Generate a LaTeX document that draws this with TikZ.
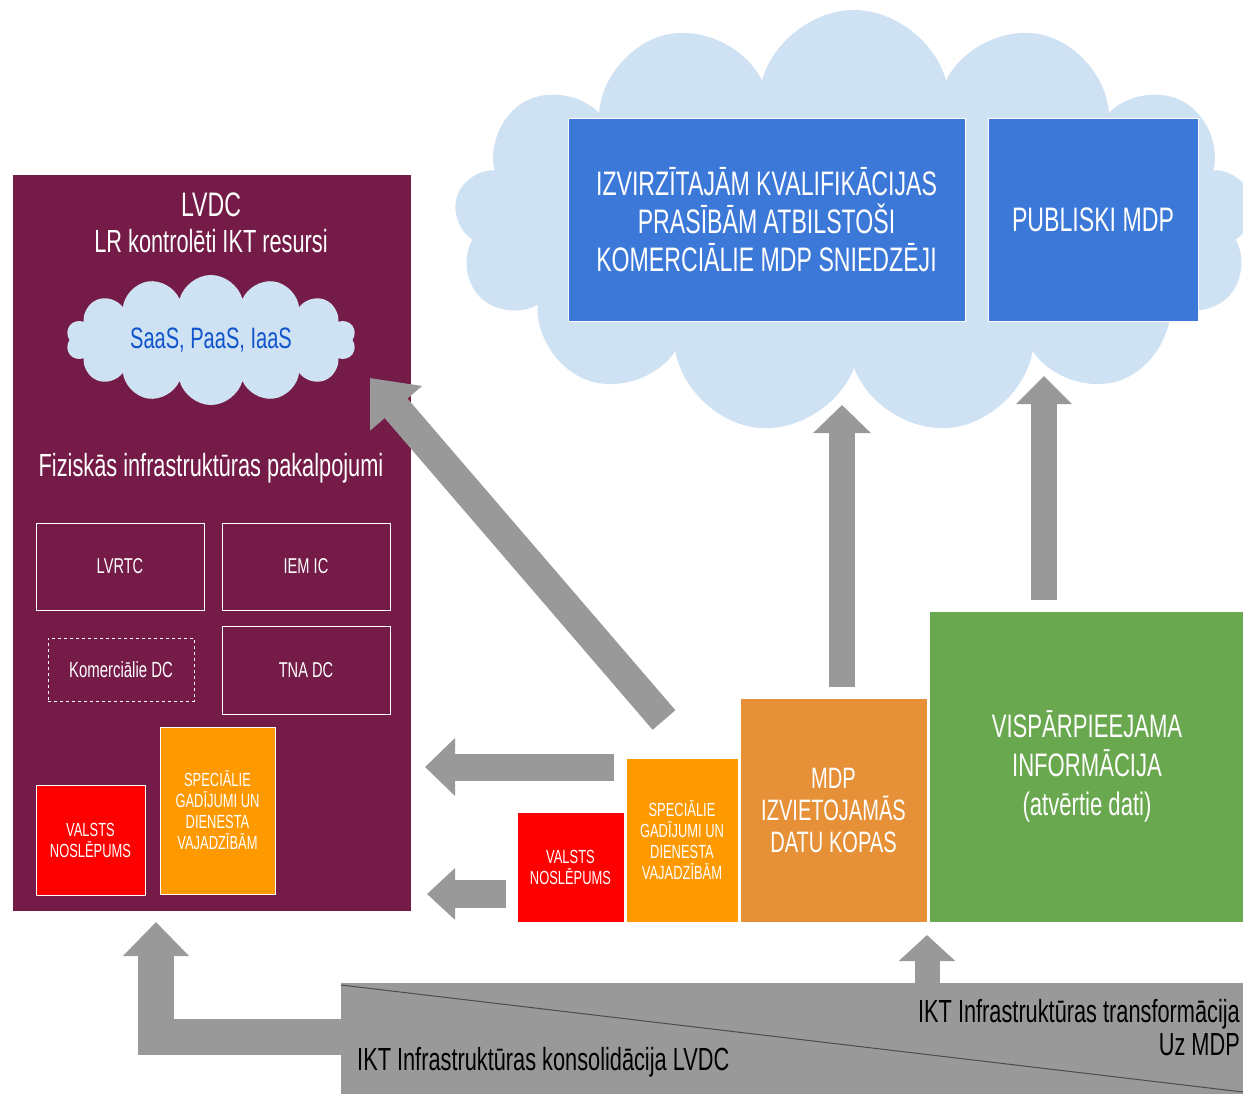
\documentclass[tikz,border=0pt]{standalone}
\usepackage{fontspec}
\setmainfont{Liberation Sans}[FakeStretch=0.68]
\usetikzlibrary{shapes.symbols,arrows.meta,positioning}
\definecolor{lvdc}{HTML}{741B47}
\definecolor{cloudblue}{HTML}{CFE2F3}
\definecolor{boxblue}{HTML}{3C78D8}
\definecolor{saasblue}{HTML}{1155CC}
\definecolor{secretred}{HTML}{FF0000}
\definecolor{specorange}{HTML}{FF9900}
\definecolor{mdporange}{HTML}{E69138}
\definecolor{opengreen}{HTML}{6AA84F}
\definecolor{arrowgray}{HTML}{999999}
\newcommand{\fsz}[2]{\fontsize{#1}{#2}\selectfont}
\tikzset{
  plate/.style={draw=white, line width=0.8pt, align=center, text=white, inner sep=0pt},
  label/.style={align=center, text=white, inner sep=0pt},
  small/.style={font=\fsz{19}{21}},
  blockarrow/.style args={#1/#2/#3}{draw=arrowgray, line width=#1, -{Triangle[width=#2,length=#3]}},
}
\begin{document}
\begin{tikzpicture}[x=1pt,y=-1pt]
  \useasboundingbox (0,0) rectangle (1243,1094);
  \fill[white] (0,0) rectangle (1243,1094);

  % cloud with the MDP providers
  \node[cloud, cloud puffs=13, cloud ignores aspect, fill=cloudblue, draw=none,
        minimum width=800pt, minimum height=424pt] (mdpcloud) at (854,222) {};
  \node[plate, fill=boxblue, minimum width=397pt, minimum height=203pt, font=\fsz{34}{38}] (comm) at (766.5,219.5)
    {IZVIRZĪTAJĀM KVALIFIKĀCIJAS\\PRASĪBĀM ATBILSTOŠI\\KOMERCIĀLIE MDP SNIEDZĒJI};
  \node[plate, fill=boxblue, minimum width=210pt, minimum height=203pt, font=\fsz{34}{38}] (publ) at (1093,219.5)
    {PUBLISKI MDP};

  % LVDC
  \node[fill=lvdc, draw=white, line width=0.8pt, minimum width=399pt, minimum height=737pt] (lvdc) at (211.5,542.5) {};
  \node[label, font=\fsz{34}{38}] (lvdct) at (211,205) {LVDC};
  \node[label, font=\fsz{32}{34}] (lrres) at (211,241) {LR kontrolēti IKT resursi};
  \node[cloud, cloud puffs=14, cloud ignores aspect, fill=cloudblue, draw=none,
        minimum width=290pt, minimum height=130pt, text=saasblue, font=\fsz{29.5}{32}] (saas) at (211,340)
    {SaaS, PaaS, IaaS};
  \node[label, font=\fsz{32}{34}] (fiz) at (211,468) {Fiziskās infrastruktūras pakalpojumi};
  \node[plate, minimum width=168pt, minimum height=87pt, font=\fsz{21.5}{24}] (lvrtc) at (120,566.5) {LVRTC};
  \node[plate, minimum width=168pt, minimum height=87pt, font=\fsz{21.5}{24}] (iemic) at (306,566.5) {IEM IC};
  \node[plate, dashed, minimum width=146pt, minimum height=63pt, font=\fsz{22}{24}] (komdc) at (121,669.5) {Komerciālie DC};
  \node[plate, minimum width=168pt, minimum height=88pt, font=\fsz{21.5}{24}] (tnadc) at (306,670) {TNA DC};
  \node[plate, small, fill=secretred, minimum width=109pt, minimum height=110pt] (secret1) at (90.5,840)
    {VALSTS\\NOSLĒPUMS};
  \node[plate, small, fill=specorange, minimum width=115pt, minimum height=167pt] (spec1) at (217.5,810.5)
    {SPECIĀLIE\\GADĪJUMI UN\\DIENESTA\\VAJADZĪBĀM};

  % data sets to be placed
  \node[plate, small, fill=secretred, minimum width=107pt, minimum height=110pt] (secret2) at (570.5,867)
    {VALSTS\\NOSLĒPUMS};
  \node[plate, small, fill=specorange, minimum width=112pt, minimum height=164pt] (spec2) at (682,840)
    {SPECIĀLIE\\GADĪJUMI UN\\DIENESTA\\VAJADZĪBĀM};
  \node[plate, fill=mdporange, minimum width=187pt, minimum height=224pt, font=\fsz{29.5}{32}] (mdpds) at (833.5,810)
    {MDP\\IZVIETOJAMĀS\\DATU KOPAS};
  \node[plate, fill=opengreen, minimum width=316pt, minimum height=311pt, font=\fsz{32.5}{39}] (open) at (1087,766.5)
    {VISPĀRPIEEJAMA\\INFORMĀCIJA\\(atvērtie dati)};

  % transformation band
  \fill[arrowgray] (341,983) rectangle (1243,1094);
  \draw[black!70, line width=1pt] (341,985) -- (1243,1092);
  \node[inner sep=0pt, anchor=west, font=\fsz{32}{34}] (kons) at (357,1062) {IKT Infrastruktūras konsolidācija LVDC};
  \node[inner sep=0pt, anchor=east, align=right, font=\fsz{32}{33}] (trans) at (1240,1028)
    {IKT Infrastruktūras transformācija\\Uz MDP};

  % arrows
  \coordinate (diagtail) at (664,720);
  \coordinate (diagtip) at (370,378);
  \coordinate (uptail) at (614,767);
  \coordinate (uptip) at (425,767);
  \coordinate (lowtail) at (506,894);
  \coordinate (lowtip) at (427,894);
  \coordinate (mdptail) at (842,687);
  \coordinate (mdptip) at (842,405);
  \coordinate (opentail) at (1044,600);
  \coordinate (opentip) at (1044,376);
  \coordinate (bandtail) at (927,984);
  \coordinate (bandtip) at (927,935);
  \coordinate (ltail) at (342,1037);
  \coordinate (lcorner) at (156,1037);
  \coordinate (ltip) at (156,922);
  \draw[blockarrow=30pt/66pt/40pt] (diagtail) -- (diagtip);
  \draw[blockarrow=27pt/56pt/30pt] (uptail) -- (uptip);
  \draw[blockarrow=28pt/50pt/28pt] (lowtail) -- (lowtip);
  \draw[blockarrow=26pt/56pt/28pt] (mdptail) -- (mdptip);
  \draw[blockarrow=26pt/54pt/28pt] (opentail) -- (opentip);
  \draw[blockarrow=25pt/55pt/26pt] (bandtail) -- (bandtip);
  \draw[blockarrow=36pt/64pt/34pt, line join=miter] (ltail) -- (lcorner) -- (ltip);
\end{tikzpicture}
\end{document}
